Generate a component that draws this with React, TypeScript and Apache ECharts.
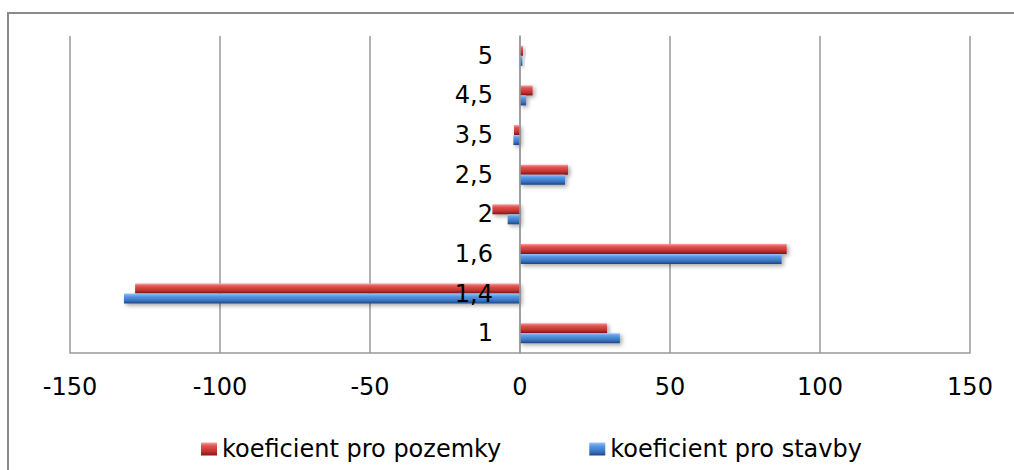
import React, { useEffect, useRef } from "react";
import * as echarts from "echarts";

const categories = ["1", "1,4", "1,6", "2", "2,5", "3,5", "4,5", "5"];
const pozemky = [29, -128.3, 88.9, -9.2, 16, -2, 4.2, 1];
const stavby = [33.3, -132, 87.2, -4.1, 15, -2.2, 2, 0.8];
const xTicks = { min: -150, max: 150, interval: 50 };
const seriesNames = ["koeficient pro pozemky", "koeficient pro stavby"];

const redGrad = () =>
  new echarts.graphic.LinearGradient(0, 0, 0, 1, [
    { offset: 0, color: "#f7a1a0" },
    { offset: 0.25, color: "#e25552" },
    { offset: 0.7, color: "#c0302e" },
    { offset: 1, color: "#7e1716" },
  ]);
const blueGrad = () =>
  new echarts.graphic.LinearGradient(0, 0, 0, 1, [
    { offset: 0, color: "#9cc6f5" },
    { offset: 0.25, color: "#5b9ae6" },
    { offset: 0.7, color: "#3a72c0" },
    { offset: 1, color: "#1c4683" },
  ]);

export default function App() {
  const ref = useRef<HTMLDivElement>(null);
  useEffect(() => {
    if (!ref.current) return;
    const chart = echarts.init(ref.current, undefined, { renderer: "svg" });
    const font = "DejaVu Sans";
    const barStyle = (c: any) => ({
      color: c,
      shadowColor: "rgba(0,0,0,0.35)",
      shadowBlur: 4,
      shadowOffsetX: 2,
      shadowOffsetY: 2,
    });
    chart.setOption({
      animation: false,
      backgroundColor: "#ffffff",
      graphic: [
        {
          type: "rect",
          shape: { x: 8, y: 13, width: 1020, height: 480 },
          style: { fill: "none", stroke: "#8a8a8a", lineWidth: 2 },
          silent: true,
          z: 0,
        },
      ],
      grid: { left: 70, right: 44, top: 36, bottom: 117, containLabel: false },
      legend: {
        data: seriesNames,
        top: 432,
        left: 196,
        itemWidth: 16,
        itemHeight: 13,
        itemGap: 88,
        icon: "rect",
        textStyle: { fontFamily: font, fontSize: 24, color: "#000" },
      },
      xAxis: {
        type: "value",
        min: xTicks.min,
        max: xTicks.max,
        interval: xTicks.interval,
        axisLine: { show: true, onZero: false, lineStyle: { color: "#999", width: 1.5 } },
        axisTick: { show: false },
        splitLine: { show: true, lineStyle: { color: "#999", width: 1.5 } },
        axisLabel: { fontFamily: font, fontSize: 24, color: "#000", margin: 22 },
      },
      yAxis: {
        type: "category",
        data: categories,
        z: 5,
        axisLine: { show: true, onZero: true, lineStyle: { color: "#999", width: 1.5 } },
        axisTick: { show: false },
        splitLine: { show: false },
        axisLabel: { fontFamily: font, fontSize: 24, color: "#000", margin: -423 },
      },
      series: [
        {
          name: seriesNames[0],
          type: "bar",
          data: pozemky,
          barWidth: 10,
          barGap: "0%",
          itemStyle: barStyle(redGrad()),
          z: 3,
        },
        {
          name: seriesNames[1],
          type: "bar",
          data: stavby,
          barWidth: 10,
          barGap: "0%",
          itemStyle: barStyle(blueGrad()),
          z: 3,
        },
      ],
    });
    return () => chart.dispose();
  }, []);
  return (
    <div
      ref={ref}
      style={{ position: "absolute", left: 0, top: 0, width: 1014, height: 470 }}
    />
  );
}
